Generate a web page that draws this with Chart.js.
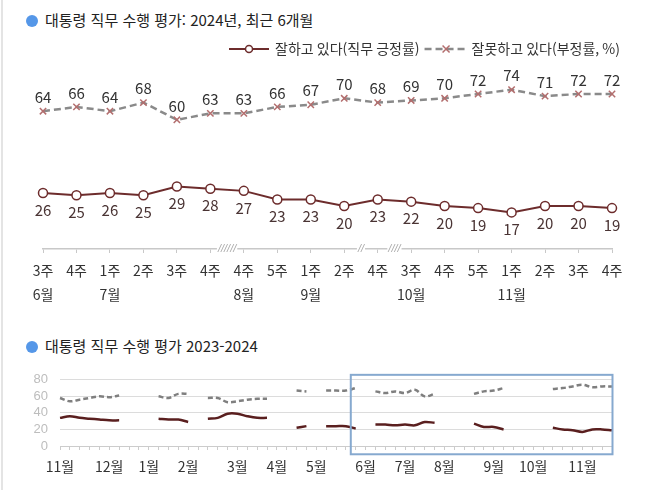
<!DOCTYPE html>
<html lang="ko">
<head>
<meta charset="utf-8">
<title>대통령 직무 수행 평가</title>
<script src="https://cdn.jsdelivr.net/npm/chart.js@4.4.1/dist/chart.umd.min.js"></script>
<style>
  body { margin: 0; background: #fff; font-family: 'Noto Sans CJK KR', sans-serif; }
  #wrap { position: relative; width: 658px; height: 490px; overflow: hidden; }
  .edge { position: absolute; left: 1px; top: 0; width: 2px; height: 490px; background: #e4e4e4; }
  .ttl { position: absolute; left: 26px; font-size: 15px; line-height: 20px; color: #222; white-space: nowrap; }
  .ttl .dot { display: inline-block; width: 12px; height: 12px; border-radius: 50%; background: #5597e8; vertical-align: -1px; margin-right: 7px; }
  #topChart { position: absolute; left: 0; top: 0; }
  #histChart { position: absolute; left: 0; top: 360px; }
</style>
</head>
<body>
<div id="wrap">
  <div class="edge"></div>
  <div class="ttl" style="top:10px"><span class="dot"></span>대통령 직무 수행 평가: 2024년, 최근 6개월</div>
  <canvas id="topChart" width="658" height="320"></canvas>
  <div class="ttl" style="top:336px"><span class="dot"></span>대통령 직무 수행 평가 2023-2024</div>
  <canvas id="histChart" width="658" height="125"></canvas>
</div>
<script>
// 최근 6개월 (주별)
const weekLabels = ['3주','4주','1주','2주','3주','4주','4주','5주','1주','2주','4주','3주','4주','5주','1주','2주','3주','4주'];
const monthLabels = ['6월','','7월','','','','8월','','9월','','','10월','','','11월','','',''];
const approve = [26, 25, 26, 25, 29, 28, 27, 23, 23, 20, 23, 22, 20, 19, 17, 20, 20, 19];
const disapprove = [64, 66, 64, 68, 60, 63, 63, 66, 67, 70, 68, 69, 70, 72, 74, 71, 72, 72];
const seriesNames = ['잘하고 있다(직무 긍정률)', '잘못하고 있다(부정률, %)'];
// 조사 공백 구간 (앞 항목 인덱스)
const breakAfter = [5, 9, 10];
const breakMarks = ['//////', '//', '////'];

// 2023-2024 (주별, null = 조사 없음)
const histApprove = [
  34, 36, 34, 33, 32, 31, 31, null, null, null,
  33, 32, 32, 29, null, 33, 34, 39, 39, 36,
  34, 34, null, null, 22, 24, null, 24, 24, 24,
  21, null, 26, 26, 25, 26, 25, 29, 28, null,
  null, null, 27, 23, 23, 20, null, null, null, null,
  22, 20, 19, 17, 20, 20, 19
];
const histDisapprove = [
  58, 54, 56, 58, 60, 59, 61, null, null, null,
  60, 58, 63, 63, null, 58, 58, 53, 54, 56,
  57, 57, null, null, 67, 66, null, 67, 67, 67,
  70, null, 66, 64, 66, 64, 68, 60, 63, null,
  null, null, 63, 66, 67, 70, null, null, null, null,
  69, 70, 72, 74, 71, 72, 72
];
const histMonthIdx = [0, 5, 9, 13, 18, 22, 26, 31, 35, 39, 44, 48, 53];
const histMonthNames = ['11월','12월','1월','2월','3월','4월','5월','6월','7월','8월','9월','10월','11월'];
const histYTicks = [0, 20, 40, 60, 80];
// 최근 6개월 강조 범위 (주 인덱스)
const recentFrom = 29.5;
const recentTo = 56.05;

Chart.defaults.font.family = "'Noto Sans CJK KR', sans-serif";
Chart.defaults.color = '#333';

const FONT = "'Noto Sans CJK KR', sans-serif";
const POS = '#6d2c2c';
const NEG = '#8a8a8a';
const NEG_MARK = '#b36e6e';

// 점 위/아래 수치
const valueLabels = {
  id: 'valueLabels',
  afterDatasetsDraw(chart) {
    const ctx = chart.ctx;
    ctx.save();
    ctx.font = '15px ' + FONT;
    ctx.textAlign = 'center';
    ctx.textBaseline = 'middle';
    chart.data.datasets.forEach((ds, i) => {
      chart.getDatasetMeta(i).data.forEach((pt, j) => {
        ctx.fillStyle = ds.labelColor;
        ctx.fillText(ds.data[j], pt.x, pt.y + ds.labelOffset);
      });
    });
    ctx.restore();
  }
};

// 범례: 선 + 마커
const lineLegend = {
  id: 'lineLegend',
  afterDraw(chart) {
    const ctx = chart.ctx;
    const y = 49;
    ctx.save();
    ctx.font = '14px ' + FONT;
    ctx.textBaseline = 'middle';
    const w1 = ctx.measureText(seriesNames[0]).width;
    const w2 = ctx.measureText(seriesNames[1]).width;
    let x = 620 - w2 - 4 - 43 - 5 - w1 - 6 - 40;

    ctx.strokeStyle = POS;
    ctx.lineWidth = 2;
    ctx.beginPath(); ctx.moveTo(x, y); ctx.lineTo(x + 40, y); ctx.stroke();
    ctx.fillStyle = '#fff';
    ctx.lineWidth = 1.5;
    ctx.beginPath(); ctx.arc(x + 20, y, 3.5, 0, Math.PI * 2); ctx.fill(); ctx.stroke();
    ctx.fillStyle = '#333';
    ctx.fillText(seriesNames[0], x + 46, y);
    x += 46 + w1 + 5;

    ctx.strokeStyle = NEG;
    ctx.lineWidth = 2.5;
    ctx.setLineDash([7, 4]);
    ctx.beginPath(); ctx.moveTo(x, y); ctx.lineTo(x + 43, y); ctx.stroke();
    ctx.setLineDash([]);
    ctx.strokeStyle = NEG_MARK;
    ctx.lineWidth = 1.5;
    const cx = x + 21.5;
    ctx.beginPath();
    ctx.moveTo(cx - 3.5, y - 3.5); ctx.lineTo(cx + 3.5, y + 3.5);
    ctx.moveTo(cx + 3.5, y - 3.5); ctx.lineTo(cx - 3.5, y + 3.5);
    ctx.stroke();
    ctx.fillStyle = '#333';
    ctx.fillText(seriesNames[1], x + 47, y);
    ctx.restore();
  }
};

// 축 위 생략 표시
const axisBreaks = {
  id: 'axisBreaks',
  afterDraw(chart) {
    const ctx = chart.ctx;
    const xs = chart.scales.x;
    const y = chart.chartArea.bottom;
    ctx.save();
    ctx.font = 'italic 11px "Liberation Sans"';
    ctx.textAlign = 'center';
    ctx.textBaseline = 'middle';
    breakAfter.forEach((i, k) => {
      const mid = (xs.getPixelForValue(i) + xs.getPixelForValue(i + 1)) / 2;
      const w = ctx.measureText(breakMarks[k]).width;
      ctx.fillStyle = '#fff';
      ctx.fillRect(mid - w / 2 - 1, y - 3, w + 2, 6);
      ctx.fillStyle = '#a8a8a8';
      ctx.fillText(breakMarks[k], mid, y);
    });
    ctx.restore();
  }
};

new Chart(document.getElementById('topChart'), {
  type: 'line',
  data: {
    labels: weekLabels.map((w, i) => [w, monthLabels[i]]),
    datasets: [
      {
        label: seriesNames[0],
        data: approve,
        borderColor: POS,
        borderWidth: 2,
        pointStyle: 'circle',
        pointRadius: 4.5,
        pointBackgroundColor: '#fff',
        pointBorderColor: POS,
        pointBorderWidth: 1.5,
        tension: 0,
        clip: false,
        labelColor: '#4a3434',
        labelOffset: 17
      },
      {
        label: seriesNames[1],
        data: disapprove,
        borderColor: NEG,
        borderWidth: 2.5,
        borderDash: [7, 4],
        pointStyle: 'crossRot',
        pointRadius: 4.5,
        pointBorderColor: NEG_MARK,
        pointBorderWidth: 1.5,
        tension: 0,
        clip: false,
        labelColor: '#333',
        labelOffset: -14
      }
    ]
  },
  options: {
    responsive: false,
    animation: false,
    events: [],
    layout: { padding: { left: 43, right: 46, top: 66, bottom: 13 } },
    plugins: { legend: { display: false }, tooltip: { enabled: false } },
    scales: {
      y: { display: false, min: 0, max: 85 },
      x: {
        offset: false,
        afterFit(scale) { scale.height = 58; },
        grid: { drawOnChartArea: false, drawTicks: true, tickLength: 4, color: '#c8c8c8' },
        border: { color: '#c8c8c8', width: 1.5 },
        ticks: {
          autoSkip: false,
          maxRotation: 0,
          padding: 5,
          color: '#333',
          font: { size: 14, lineHeight: 1.75 }
        }
      }
    }
  },
  plugins: [valueLabels, lineLegend, axisBreaks]
});

// 최근 6개월 강조 박스
const recentBox = {
  id: 'recentBox',
  afterDraw(chart) {
    const ctx = chart.ctx;
    const xs = chart.scales.x, ys = chart.scales.y;
    const l = xs.getPixelForValue(recentFrom), r = xs.getPixelForValue(recentTo);
    const t = ys.getPixelForValue(86), b = ys.getPixelForValue(-10);
    ctx.save();
    ctx.strokeStyle = '#86a9cf';
    ctx.lineWidth = 2;
    ctx.strokeRect(l, t, r - l, b - t);
    ctx.restore();
  }
};

const histLabels = histApprove.map((v, i) => {
  const k = histMonthIdx.indexOf(i);
  return k >= 0 ? histMonthNames[k] : '';
});

new Chart(document.getElementById('histChart'), {
  type: 'line',
  data: {
    labels: histLabels,
    datasets: [
      {
        data: histApprove,
        borderColor: '#5a1f1f',
        borderWidth: 2.5,
        pointRadius: 0,
        tension: 0.35,
        spanGaps: false
      },
      {
        data: histDisapprove,
        borderColor: '#7f7f7f',
        borderWidth: 2.5,
        borderDash: [5, 3],
        pointRadius: 0,
        tension: 0.35,
        spanGaps: false
      }
    ]
  },
  options: {
    responsive: false,
    animation: false,
    events: [],
    layout: { padding: { left: 0, right: 46, top: 17, bottom: 9 } },
    plugins: { legend: { display: false }, tooltip: { enabled: false } },
    scales: {
      y: {
        min: 0,
        max: 80,
        afterFit(scale) { scale.width = 60; },
        afterBuildTicks(scale) { scale.ticks = histYTicks.map(v => ({ value: v })); },
        grid: { color: '#dcdcdc', drawTicks: false },
        border: { display: false },
        ticks: { autoSkip: false, padding: 12, color: '#bdbdbd', font: { family: 'Liberation Sans', size: 13 } }
      },
      x: {
        offset: false,
        afterFit(scale) { scale.height = 30; },
        grid: { drawOnChartArea: false, drawTicks: true, tickLength: 4, color: '#cccccc' },
        border: { color: '#cccccc' },
        ticks: {
          autoSkip: false,
          maxRotation: 0,
          padding: 8,
          color: '#333',
          font: { size: 14, lineHeight: 1.3 }
        }
      }
    }
  },
  plugins: [recentBox]
});
</script>
</body>
</html>
